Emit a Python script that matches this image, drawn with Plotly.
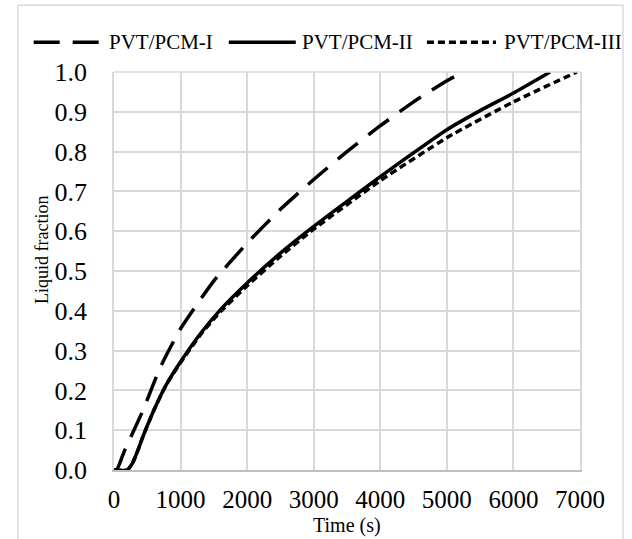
import plotly.graph_objects as go

# ---- data ----
t_I = [0, 40, 162, 436, 687, 1000, 1500, 2000, 2500, 3000, 3500, 4000, 4500, 5000, 5250]
lf_I = [0, 0, 0.05, 0.15, 0.255, 0.355, 0.475, 0.57, 0.655, 0.73, 0.80, 0.865, 0.925, 0.978, 1.0]

t_II = [0, 200, 286, 360, 437, 612, 788, 1000, 1300, 1600, 2000, 2500, 3000, 3500, 4000, 4500, 5000, 5500, 6000, 6551]
lf_II = [0, 0, 0.02, 0.05, 0.085, 0.155, 0.215, 0.272, 0.343, 0.403, 0.47, 0.545, 0.612, 0.675, 0.737, 0.797, 0.855, 0.903, 0.947, 1.0]

t_III = [0, 200, 286, 360, 437, 612, 788, 1000, 1300, 1600, 2000, 2500, 3000, 4000, 5000, 6000, 6953]
lf_III = [0, 0, 0.02, 0.05, 0.085, 0.155, 0.215, 0.27, 0.34, 0.398, 0.463, 0.537, 0.605, 0.727, 0.835, 0.925, 1.0]

series_names = ["PVT/PCM-I", "PVT/PCM-II", "PVT/PCM-III"]
x_ticks = [0, 1000, 2000, 3000, 4000, 5000, 6000, 7000]
y_ticks = [0.0, 0.1, 0.2, 0.3, 0.4, 0.5, 0.6, 0.7, 0.8, 0.9, 1.0]

FONT = "Liberation Serif"
dashes = ["26px,13px", "solid", "7px,4px"]
W = 3.5

fig = go.Figure()
for xs, ys, name, d in zip([t_I, t_II, t_III], [lf_I, lf_II, lf_III], series_names, dashes):
    fig.add_trace(go.Scatter(x=xs, y=ys, mode="lines", name=name, showlegend=False,
                             line=dict(color="black", width=W, dash=d, shape="spline", smoothing=0.5)))

grid = "#d9d9d9"
fig.update_layout(
    width=632, height=539,
    margin=dict(l=114, r=52, t=72, b=69),
    paper_bgcolor="white", plot_bgcolor="white",
    font=dict(family=FONT, color="black"),
    xaxis=dict(range=[0, 7000], tickvals=x_ticks, ticktext=[str(v) for v in x_ticks],
               showgrid=True, gridcolor=grid, gridwidth=1.5, zeroline=False,
               showline=True, linecolor="#bfbfbf", linewidth=2, ticks="",
               tickfont=dict(size=25, family=FONT), ticklabelstandoff=6),
    yaxis=dict(range=[0, 1.0], tickvals=y_ticks, ticktext=[f"{v:.1f}" for v in y_ticks],
               showgrid=True, gridcolor=grid, gridwidth=1.5, zeroline=False,
               showline=True, mirror=True, linecolor=grid, linewidth=1.5, ticks="",
               tickfont=dict(size=26, family=FONT), ticklabelstandoff=20),
)

# top border of plot area (gridline at 1.0)
fig.add_shape(type="line", xref="paper", yref="paper", x0=0, x1=1, y0=1, y1=1,
              line=dict(color=grid, width=1.5))
# outer chart frame
fig.add_shape(type="rect", xref="paper", yref="paper", x0=-0.2061, x1=1.0923, y0=-0.4, y1=1.1675,
              line=dict(color=grid, width=1.5), layer="below")

# axis titles
fig.add_annotation(text="Time (s)", xref="paper", yref="paper", x=0.4995, y=-0.1385,
                   showarrow=False, font=dict(size=20, family=FONT), xanchor="center", yanchor="middle")
fig.add_annotation(text="Liquid fraction", xref="paper", yref="paper", x=-0.1545, y=0.553,
                   showarrow=False, textangle=-90, font=dict(size=18, family=FONT),
                   xanchor="center", yanchor="middle")

# legend (drawn manually)
leg_y = 1.0746
leg_items = [(-0.1724, -0.0243, -0.0157), (0.2463, 0.3901, 0.3987), (0.6715, 0.8196, 0.8325)]
for (x0, x1, xt), name, d in zip(leg_items, series_names, dashes):
    fig.add_shape(type="line", xref="paper", yref="paper", x0=x0, x1=x1, y0=leg_y, y1=leg_y,
                  line=dict(color="black", width=W, dash=d))
    fig.add_annotation(text=name, xref="paper", yref="paper", x=xt, y=leg_y, showarrow=False,
                       xanchor="left", yanchor="middle", font=dict(size=21, family=FONT))

fig.write_html("out.html")
